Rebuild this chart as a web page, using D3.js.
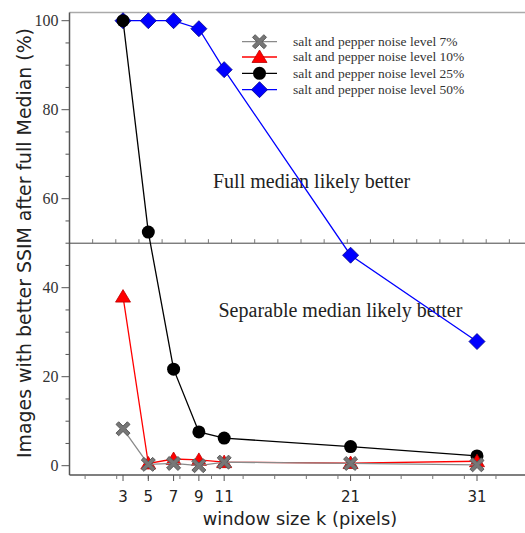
<!DOCTYPE html>
<html><head><meta charset="utf-8">
<script src="https://cdn.jsdelivr.net/npm/d3@7"></script>
<style>body{margin:0;background:#fff}svg{display:block}</style>
</head><body>
<script>
const windowSizes = [3, 5, 7, 9, 11, 21, 31];
const noise7  = [8.3, 0.3, 0.5, 0.0, 0.8, 0.5, 0.2];
const noise10 = [38.0, 0.5, 1.5, 1.3, 0.8, 0.6, 1.0];
const noise25 = [100, 52.5, 21.7, 7.6, 6.2, 4.3, 2.2];
const noise50 = [100, 100, 100, 98.2, 89.0, 47.3, 27.9];
const yTicks = [0, 20, 40, 60, 80, 100];
const seriesNames = ["salt and pepper noise level 7%", "salt and pepper noise level 10%",
                     "salt and pepper noise level 25%", "salt and pepper noise level 50%"];
const threshold = 50;

(function () {
const W = 525, H = 533;
const svg = d3.select("body").append("svg").attr("width", W).attr("height", H);

const x = d3.scaleLinear().domain([0, 31]).range([85.1, 477]);
const y = d3.scaleLinear().domain([0, 100]).range([465.7, 20.7]);
const pl = 69.5, pr = 525, pt = 12.5, pb = 475;

// top border
svg.append("line").attr("x1", pl).attr("x2", pr).attr("y1", pt).attr("y2", pt)
  .attr("stroke", "#aaa").attr("stroke-width", 1.5);

// threshold line with ticks
const ty = y(threshold);
svg.append("line").attr("x1", pl).attr("x2", pr).attr("y1", ty).attr("y2", ty)
  .attr("stroke", "#444").attr("stroke-width", 1);
const tick50 = d3.scaleLinear().domain([0, 19]).range([pl, pl + 19 * 23.15]);
svg.append("g").selectAll("line").data(d3.range(1, 20)).join("line")
  .attr("x1", d => tick50(d)).attr("x2", d => tick50(d)).attr("y1", ty).attr("y2", ty - 4)
  .attr("stroke", "#777").attr("stroke-width", 1);

// Y axis
svg.append("line").attr("x1", pl).attr("x2", pl).attr("y1", pt).attr("y2", pb)
  .attr("stroke", "#555").attr("stroke-width", 1.5);
const gy = svg.append("g");
gy.selectAll("line.minor").data(d3.range(0, 101, 5)).join("line").attr("class", "minor")
  .attr("x1", pl).attr("x2", d => yTicks.includes(d) ? pl - 8 : pl - 4)
  .attr("y1", d => y(d)).attr("y2", d => y(d)).attr("stroke", "#555").attr("stroke-width", 1);
gy.selectAll("text").data(yTicks).join("text")
  .attr("x", pl - 11).attr("y", d => y(d)).attr("dy", "0.35em").attr("text-anchor", "end")
  .attr("font-family", "Liberation Serif, serif").attr("font-size", 16).attr("fill", "#333")
  .text(d => d);

// X axis
svg.append("line").attr("x1", pl).attr("x2", pr).attr("y1", pb).attr("y2", pb)
  .attr("stroke", "#555").attr("stroke-width", 1.5);
const gx = svg.append("g");
gx.selectAll("line.minor").data(d3.range(0, 33, 2.5)).join("line").attr("class", "minor")
  .attr("x1", d => x(d)).attr("x2", d => x(d)).attr("y1", pb).attr("y2", pb + 4)
  .attr("stroke", "#777").attr("stroke-width", 1);
gx.selectAll("line.major").data(windowSizes).join("line").attr("class", "major")
  .attr("x1", d => x(d)).attr("x2", d => x(d)).attr("y1", pb).attr("y2", pb + 6)
  .attr("stroke", "#555").attr("stroke-width", 1);
gx.selectAll("text").data(windowSizes).join("text")
  .attr("x", d => x(d)).attr("y", 497).attr("dy", "0.35em").attr("text-anchor", "middle")
  .attr("font-family", "DejaVu Sans, sans-serif").attr("font-size", 15).attr("fill", "#222")
  .text(d => d);

// axis labels
svg.append("text").attr("x", 300).attr("y", 525).attr("text-anchor", "middle")
  .attr("font-family", "DejaVu Sans, sans-serif").attr("font-size", 17.8).attr("fill", "#222")
  .text("window size k (pixels)");
svg.append("text").attr("transform", "translate(31,243) rotate(-90)").attr("text-anchor", "middle")
  .attr("font-family", "DejaVu Sans, sans-serif").attr("font-size", 18.9).attr("fill", "#222")
  .text("Images with better SSIM after full Median (%)");

// annotations
svg.append("text").attr("x", 213).attr("y", 188).attr("font-family", "Liberation Serif, serif")
  .attr("font-size", 20).attr("fill", "#222").text("Full median likely better");
svg.append("text").attr("x", 218.5).attr("y", 316.5).attr("font-family", "Liberation Serif, serif")
  .attr("font-size", 20).attr("fill", "#222").text("Separable median likely better");

// markers
function crossPath(s) {
  const a = s, b = s * 0.38;
  const pts = [[-a + b, -a], [0, -b], [a - b, -a], [a, -a + b], [b, 0], [a, a - b], [a - b, a], [0, b],
               [-a + b, a], [-a, a - b], [-b, 0], [-a, -a + b]];
  return "M" + pts.map(p => p.join(",")).join("L") + "Z";
}
const styles = [
  {vals: noise7, line: "#8a8a8a", draw: g => g.append("path").attr("d", crossPath(7)).attr("fill", "#777").attr("stroke", "#5a5a5a").attr("stroke-width", 1)},
  {vals: noise10, line: "#ff0000", draw: g => g.append("path").attr("d", "M0,-7L7.5,5.5L-7.5,5.5Z").attr("fill", "#ff0000").attr("stroke", "#b00").attr("stroke-width", 0.8)},
  {vals: noise25, line: "#000000", draw: g => g.append("circle").attr("r", 6.5).attr("fill", "#000")},
  {vals: noise50, line: "#0000ff", draw: g => g.append("path").attr("d", "M0,-8L8,0L0,8L-8,0Z").attr("fill", "#0000ff").attr("stroke", "#00008a").attr("stroke-width", 0.8)}
];
const lineGen = d3.line().x(d => x(d[0])).y(d => y(d[1]));
[3, 2, 1, 0].forEach(i => {
  const s = styles[i];
  const data = windowSizes.map((k, j) => [k, s.vals[j]]);
  const g = svg.append("g");
  g.append("path").attr("d", lineGen(data)).attr("fill", "none").attr("stroke", s.line).attr("stroke-width", 1.3);
  data.forEach(d => s.draw(g.append("g").attr("transform", `translate(${x(d[0])},${y(d[1])})`)));
});

// legend
const legY = [41.7, 57, 73.3, 89.7];
styles.forEach((s, i) => {
  const g = svg.append("g");
  g.append("line").attr("x1", 242).attr("x2", 277).attr("y1", legY[i]).attr("y2", legY[i])
    .attr("stroke", s.line).attr("stroke-width", 1.3);
  s.draw(g.append("g").attr("transform", `translate(259.5,${legY[i]})`));
  g.append("text").attr("x", 293).attr("y", legY[i]).attr("dy", "0.33em")
    .attr("font-family", "Liberation Serif, serif").attr("font-size", 13.5).attr("fill", "#333")
    .text(seriesNames[i]);
});
})();
</script>
</body></html>
